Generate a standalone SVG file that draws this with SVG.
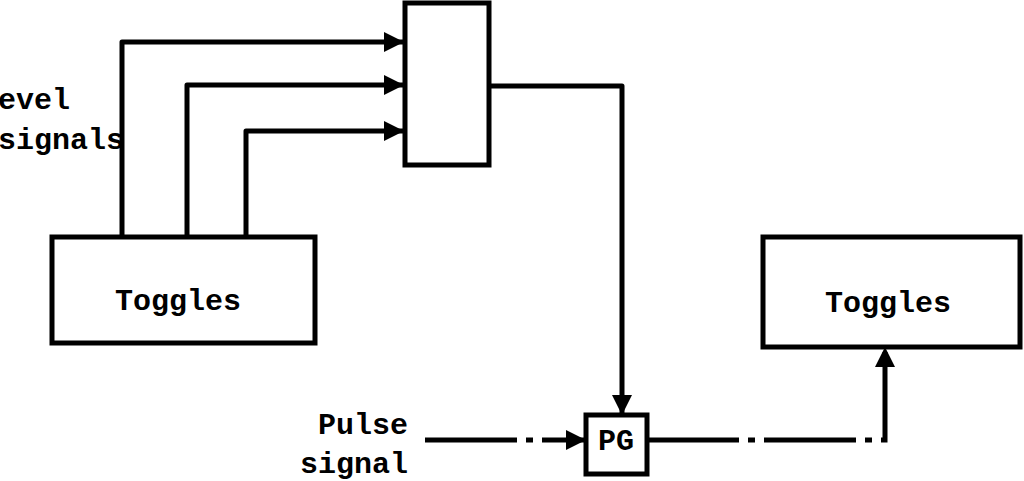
<svg xmlns="http://www.w3.org/2000/svg" width="1024" height="481" viewBox="0 0 1024 481">
<style>
.box{fill:#fff;stroke:#000;stroke-width:5}
.ln{fill:none;stroke:#000;stroke-width:5;stroke-linejoin:round}
.dd{fill:none;stroke:#000;stroke-width:5;stroke-dasharray:92 9 7 9}
text{font-family:"Liberation Mono",monospace;font-weight:bold;font-size:30px;fill:#000}
</style>
<defs>
<marker id="ah" viewBox="0 0 10 10" refX="10" refY="5" markerWidth="4.5" markerHeight="4" markerUnits="strokeWidth" orient="auto">
<path d="M0,0 L10,5 L0,10 Z" fill="#000"/>
</marker>
</defs>
<rect width="1024" height="481" fill="#fff"/>
<g id="labels">
<text x="-2" y="109">evel</text>
<text x="-2" y="149">signals</text>
<text x="408" y="434" text-anchor="end">Pulse</text>
<text x="408" y="473" text-anchor="end">signal</text>
</g>
<g id="connectors">
<path class="ln" d="M122,237 V42 H404" marker-end="url(#ah)"/>
<path class="ln" d="M187,237 V85 H404" marker-end="url(#ah)"/>
<path class="ln" d="M246,237 V131 H404" marker-end="url(#ah)"/>
<path class="ln" d="M490,86 H622 V415" marker-end="url(#ah)"/>
<path class="dd" d="M425,440 H586" marker-end="url(#ah)"/>
<path class="dd" d="M647,440 H885 V347" marker-end="url(#ah)"/>
</g>
<g id="gate"><rect class="box" x="405" y="3" width="84" height="162"/></g>
<g id="toggles-left"><rect class="box" x="52" y="237" width="263" height="106"/><text x="178" y="310" text-anchor="middle">Toggles</text></g>
<g id="toggles-right"><rect class="box" x="763" y="237" width="257" height="110"/><text x="888" y="312" text-anchor="middle">Toggles</text></g>
<g id="pg"><rect class="box" x="586" y="415" width="61" height="59"/><text x="616" y="450" text-anchor="middle" font-size="22">PG</text></g>
</svg>
